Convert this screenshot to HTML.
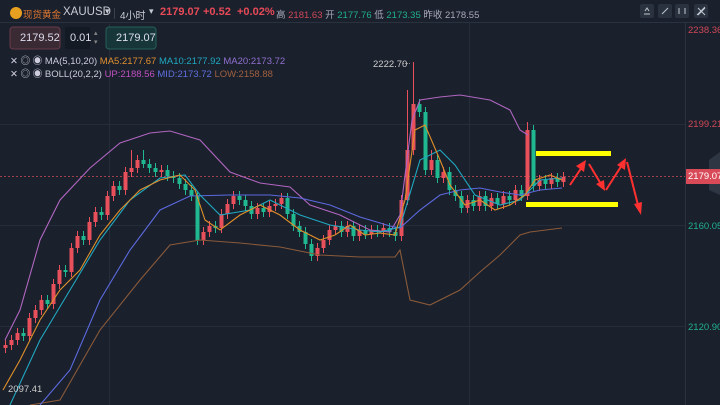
<!DOCTYPE html>
<html><head><meta charset="utf-8"><style>
body{margin:0;background:#1a202c;width:720px;height:405px;overflow:hidden;font-family:"Liberation Sans","Noto Sans CJK SC",sans-serif}
svg{position:absolute;left:0;top:0}
.t{position:absolute;white-space:nowrap;font-size:11px}
</style></head><body>
<svg width="720" height="405" xmlns="http://www.w3.org/2000/svg">
<rect width="720" height="405" fill="#1a202c"/>
<line x1="0" y1="22.5" x2="720" y2="22.5" stroke="#2a3240"/>
<line x1="685.5" y1="22" x2="685.5" y2="405" stroke="#2a3240"/>
<g stroke="#252d3a">
<line x1="0" y1="124.5" x2="685" y2="124.5"/><line x1="0" y1="225.5" x2="685" y2="225.5"/><line x1="0" y1="326.5" x2="685" y2="326.5"/>
<line x1="109.5" y1="22" x2="109.5" y2="405"/><line x1="469.5" y1="22" x2="469.5" y2="405"/>
</g>
<line x1="0" y1="176.5" x2="685" y2="176.5" stroke="#a0404a" stroke-dasharray="2,2"/>
<path fill="none" stroke="#e8505c" d="M5.5 340V353M11.5 335V350M17.5 328V345M29.5 313V341M35.5 305V323M41.5 295V315M53.5 279V309M59.5 265V289M71.5 243V277M77.5 231V253M89.5 217V245M95.5 207V227M107.5 191V220M113.5 181V201M125.5 167V195M131.5 150V177M137.5 155V173M161.5 165V177M203.5 227V245M209.5 221V237M221.5 209V233M227.5 199V219M233.5 191V209M257.5 203V219M269.5 201V217M275.5 199V211M281.5 193V209M317.5 243V261M323.5 235V253M329.5 225V245M335.5 221V235M347.5 221V237M359.5 225V241M371.5 225V239M383.5 223V237M401.5 195V241M407.5 90V205M413.5 62V155M431.5 150V175M443.5 167V183M467.5 195V213M479.5 191V211M491.5 193V211M503.5 191V209M515.5 185V205M527.5 122V200M539.5 175V191M551.5 173V189M563.5 172V187"/>
<path fill="none" stroke="#20b890" d="M23.5 328V341M47.5 295V309M65.5 265V277M83.5 231V245M101.5 207V220M119.5 181V195M143.5 150V168M149.5 159V173M155.5 163V177M167.5 165V181M173.5 171V183M179.5 173V189M185.5 179V195M191.5 185V201M197.5 191V245M215.5 221V233M239.5 191V205M245.5 195V211M251.5 201V219M263.5 203V217M287.5 193V219M293.5 209V231M299.5 221V237M305.5 227V249M311.5 239V261M341.5 221V237M353.5 221V241M365.5 225V239M377.5 225V237M389.5 223V237M395.5 227V241M419.5 99V117M425.5 107V175M437.5 155V183M449.5 167V195M455.5 185V201M461.5 191V213M473.5 195V211M485.5 191V211M497.5 193V209M509.5 191V205M521.5 185V201M533.5 125V191M545.5 175V189M557.5 173V187"/>
<path fill="#e8505c" d="M3.5 345h4v3h-4zM9.5 340h4v5h-4zM15.5 333h4v7h-4zM27.5 318h4v18h-4zM33.5 310h4v8h-4zM39.5 300h4v10h-4zM51.5 284h4v20h-4zM57.5 270h4v14h-4zM69.5 248h4v24h-4zM75.5 236h4v12h-4zM87.5 222h4v18h-4zM93.5 212h4v10h-4zM105.5 196h4v19h-4zM111.5 186h4v10h-4zM123.5 172h4v18h-4zM129.5 168h4v4h-4zM135.5 160h4v8h-4zM159.5 170h4v2h-4zM201.5 232h4v8h-4zM207.5 226h4v6h-4zM219.5 214h4v14h-4zM225.5 204h4v10h-4zM231.5 196h4v8h-4zM255.5 208h4v6h-4zM267.5 206h4v6h-4zM273.5 204h4v2h-4zM279.5 198h4v6h-4zM315.5 248h4v8h-4zM321.5 240h4v8h-4zM327.5 230h4v10h-4zM333.5 226h4v4h-4zM345.5 226h4v6h-4zM357.5 230h4v6h-4zM369.5 230h4v4h-4zM381.5 228h4v4h-4zM399.5 200h4v36h-4zM405.5 150h4v50h-4zM411.5 104h4v46h-4zM429.5 160h4v10h-4zM441.5 172h4v6h-4zM465.5 200h4v8h-4zM477.5 196h4v10h-4zM489.5 198h4v8h-4zM501.5 196h4v8h-4zM513.5 190h4v10h-4zM525.5 130h4v66h-4zM537.5 180h4v6h-4zM549.5 178h4v6h-4zM561.5 177h4v5h-4z"/>
<path fill="#20b890" d="M21.5 333h4v3h-4zM45.5 300h4v4h-4zM63.5 270h4v2h-4zM81.5 236h4v4h-4zM99.5 212h4v3h-4zM117.5 186h4v4h-4zM141.5 160h4v4h-4zM147.5 164h4v4h-4zM153.5 168h4v4h-4zM165.5 170h4v6h-4zM171.5 176h4v2h-4zM177.5 178h4v6h-4zM183.5 184h4v6h-4zM189.5 190h4v6h-4zM195.5 196h4v44h-4zM213.5 226h4v2h-4zM237.5 196h4v4h-4zM243.5 200h4v6h-4zM249.5 206h4v8h-4zM261.5 208h4v4h-4zM285.5 198h4v16h-4zM291.5 214h4v12h-4zM297.5 226h4v6h-4zM303.5 232h4v12h-4zM309.5 244h4v12h-4zM339.5 226h4v6h-4zM351.5 226h4v10h-4zM363.5 230h4v4h-4zM375.5 230h4v2h-4zM387.5 228h4v4h-4zM393.5 232h4v4h-4zM417.5 104h4v8h-4zM423.5 112h4v58h-4zM435.5 160h4v18h-4zM447.5 172h4v18h-4zM453.5 190h4v6h-4zM459.5 196h4v12h-4zM471.5 200h4v6h-4zM483.5 196h4v10h-4zM495.5 198h4v6h-4zM507.5 196h4v4h-4zM519.5 190h4v6h-4zM531.5 130h4v56h-4zM543.5 180h4v4h-4zM555.5 178h4v4h-4z"/>
<g fill="none" stroke-width="1.1">
<polyline stroke="#b066c0" points="5,340 20,310 40,240 60,200 90,168 120,143 150,133 170,131 200,140 230,172 260,183 290,187 310,205 340,215 370,230 390,232 400,215 412,120 420,100 440,97 460,95 490,100 510,110 520,130 528,135"/>
<polyline stroke="#8a5a3a" points="30,405 60,400 100,330 140,280 170,245 200,240 240,243 280,247 320,255 360,257 395,257 400,250 410,300 430,305 460,290 480,272 500,255 520,235 530,232 562,228"/>
<polyline stroke="#5c6ae0" points="40,405 70,370 100,300 130,250 160,210 190,196 230,195 270,195 300,198 330,205 360,217 390,226 400,228 420,210 440,195 460,190 480,188 500,192 520,195 540,190 562,188"/>
<polyline stroke="#20a8c0" points="10,405 40,340 70,290 100,240 130,200 160,178 185,175 200,195 220,215 250,210 270,200 300,215 330,225 360,230 380,232 400,227 420,160 440,150 455,165 475,195 500,205 520,200 540,180 562,178"/>
<polyline stroke="#e0902a" points="3,390 20,360 40,320 60,290 80,270 100,235 120,210 140,190 160,180 180,175 195,190 205,220 220,230 240,215 260,205 280,215 300,230 320,240 335,235 350,225 365,235 380,233 395,235 405,200 415,130 425,125 440,160 450,185 465,205 480,200 495,210 510,205 525,195 535,180 550,175 562,180"/>
</g>
<rect x="536" y="151" width="75" height="5" fill="#ffff00"/>
<rect x="526" y="202" width="92" height="5" fill="#ffff00"/>
<g stroke="#ff3030" stroke-width="2" fill="#ff3030">
<line x1="570" y1="185" x2="582" y2="167"/><polygon points="586,160 584,172 576,166" stroke="none"/>
<line x1="589" y1="164" x2="601" y2="184"/><polygon points="605,191 596,184 604,180" stroke="none"/>
<line x1="606" y1="190" x2="622" y2="165"/><polygon points="626,158 625,170 617,165" stroke="none"/>
<line x1="627" y1="162" x2="638" y2="205"/><polygon points="641,215 634,204 642,202" stroke="none"/>
</g>
<polygon points="709,160 720,152 720,195 709,190" fill="#2e3644"/>
<rect x="686" y="169" width="34" height="15" fill="#d84a58"/>
<line x1="403" y1="63.5" x2="410" y2="63.5" stroke="#888" stroke-dasharray="1,1"/>
<g fill="#2a3240"><rect x="640" y="4" width="14" height="14" rx="2"/><rect x="658" y="4" width="14" height="14" rx="2"/><rect x="675" y="4" width="14" height="14" rx="2"/><rect x="694" y="4" width="14" height="14" rx="2"/></g>
<g stroke="#c0c8d0" stroke-width="1" fill="none"><path d="M644,14h6M645,11l2-3 2,3"/><path d="M662,14l6-6"/><path d="M679,8v6M685,8v6"/><path d="M697,15l8-8"/><path d="M698,8l7,7M705,8l-7,7"/></g>
<rect x="10" y="27" width="50" height="22" rx="3" fill="#3a2a34" stroke="#6a3a48"/>
<rect x="65" y="27" width="25" height="22" rx="2" fill="#141a24"/>
<rect x="106" y="27" width="50" height="22" rx="3" fill="#17363a" stroke="#246058"/>
<circle cx="16" cy="13" r="6" fill="#e8a020"/>
<line x1="114.5" y1="8" x2="114.5" y2="19" stroke="#3a4250"/>
</svg>
<div class="t" style="left:23px;top:7px;font-size:9.5px;color:#e07830">现货黄金</div>
<div class="t" style="left:63px;top:6px;font-size:11.5px;color:#c8ccd4">XAUUSD</div>
<div class="t" style="left:105px;top:6px;font-size:9px;color:#c8ccd4">▾</div>
<div class="t" style="left:120px;top:7px;font-size:10px;color:#c8ccd4">4小时</div>
<div class="t" style="left:149px;top:6px;font-size:9px;color:#c8ccd4">▾</div>
<div class="t" style="left:160px;top:6px;font-size:11px;color:#e84a58;font-weight:bold">2179.07</div>
<div class="t" style="left:203px;top:6px;font-size:11px;color:#e84a58;font-weight:bold">+0.52</div>
<div class="t" style="left:237px;top:6px;font-size:11px;color:#e84a58;font-weight:bold">+0.02%</div>
<div class="t" style="left:276px;top:7px;font-size:9.5px;color:#aab">高 <span style="color:#d04858">2181.63</span> 开 <span style="color:#20b090">2177.76</span> 低 <span style="color:#20b090">2173.35</span> 昨收 2178.55</div>
<div class="t" style="left:20px;top:32px;color:#dde">2179.52</div>
<div class="t" style="left:70px;top:32px;color:#dde">0.01</div>
<div class="t" style="left:94px;top:29px;font-size:7px;color:#888;line-height:9px">▴<br>▾</div>
<div class="t" style="left:116px;top:32px;color:#dde">2179.07</div>
<div class="t" style="left:10px;top:53px;font-size:9.5px;color:#ccd">✕ ◎ ◉ MA(5,10,20) <span style="color:#e09030">MA5:2177.67</span> <span style="color:#20a8c0">MA10:2177.92</span> <span style="color:#9070d0">MA20:2173.72</span></div>
<div class="t" style="left:10px;top:66px;font-size:9.5px;color:#ccd">✕ ◎ ◉ BOLL(20,2,2) <span style="color:#c050c0">UP:2188.56</span> <span style="color:#6070e0">MID:2173.72</span> <span style="color:#a06040">LOW:2158.88</span></div>
<div class="t" style="left:373px;top:59px;font-size:9.5px;color:#ccc">2222.70</div>
<div class="t" style="left:8px;top:384px;font-size:9.5px;color:#ccc">2097.41</div>
<div class="t" style="left:688px;top:25px;font-size:9.5px;color:#d04858">2238.36</div>
<div class="t" style="left:688px;top:119px;font-size:9.5px;color:#d04858">2199.21</div>
<div class="t" style="left:688px;top:171px;font-size:9.5px;color:#fff">2179.07</div>
<div class="t" style="left:688px;top:221px;font-size:9.5px;color:#20b090">2160.05</div>
<div class="t" style="left:688px;top:322px;font-size:9.5px;color:#20b090">2120.90</div>
</body></html>
